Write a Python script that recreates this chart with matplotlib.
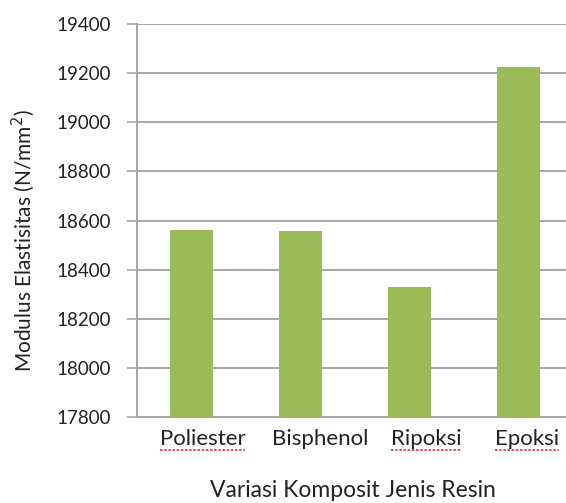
import matplotlib
matplotlib.use("Agg")
import matplotlib.pyplot as plt
import matplotlib.transforms as mtransforms

categories = ["Poliester", "Bisphenol", "Ripoksi", "Epoksi"]
values = [18563, 18557, 18328, 19225]
yticks = [17800, 18000, 18200, 18400, 18600, 18800, 19000, 19200, 19400]
label_offsets_pt = [8, 14, 12, 6]
underlined = [True, False, True, True]

plt.rcParams['font.family'] = ['Lato', 'DejaVu Sans']

fig = plt.figure(figsize=(5.66, 5.03), dpi=100)
ax = fig.add_axes([0.242, 0.171, 0.770, 0.781])

x = list(range(len(categories)))
ax.bar(x, values, width=0.4, color="#9BBB59", zorder=3)
ax.set_xlim(-0.5, len(categories) - 0.5)
ax.set_ylim(yticks[0], yticks[-1])
ax.set_yticks(yticks)
ax.set_yticklabels([str(t) for t in yticks], fontsize=13.5, color="#222222")
ax.yaxis.grid(True, color="#A6A6A6", linewidth=1.4, zorder=0)
ax.tick_params(axis='y', length=7, width=1.2, color="#A6A6A6", pad=12)
ax.tick_params(axis='x', length=0, pad=9)
ax.set_xticks(x)
ax.set_xticklabels(categories, fontsize=16, color="#222222")
for lab, off in zip(ax.get_xticklabels(), label_offsets_pt):
    lab.set_transform(lab.get_transform() + mtransforms.ScaledTranslation(off / 72, 0, fig.dpi_scale_trans))

for s in ["top", "right"]:
    ax.spines[s].set_visible(False)
ax.spines["left"].set_color("#A6A6A6")
ax.spines["left"].set_linewidth(1.4)
ax.spines["bottom"].set_color("#A6A6A6")
ax.spines["bottom"].set_linewidth(1.4)

ax.set_ylabel("Modulus Elastisitas (N/mm$^2$)", fontsize=15, color="#222222", labelpad=8)
ax.yaxis.set_label_coords(-0.23, 0.45)
fig.text(0.624, 0.003, "Variasi Komposit Jenis Resin", fontsize=16.5, color="#222222", ha="center", va="bottom")

fig.canvas.draw()
renderer = fig.canvas.get_renderer()
for lab, u in zip(ax.get_xticklabels(), underlined):
    if not u:
        continue
    bb = lab.get_window_extent(renderer)
    inv = fig.transFigure.inverted()
    (x0, y0), (x1, y1) = inv.transform([(bb.x0, bb.y0), (bb.x1, bb.y0)])
    fig.add_artist(plt.Line2D([x0, x1], [y0 - 0.002, y0 - 0.002], transform=fig.transFigure,
                              color="#E03030", linewidth=1.2, linestyle=(0, (1.5, 1.0))))

fig.savefig("out.png", dpi=100)
